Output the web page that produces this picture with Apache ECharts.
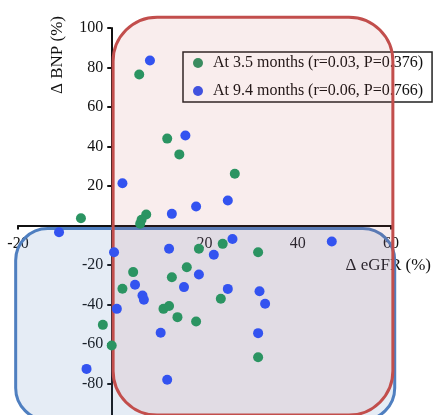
<!DOCTYPE html>
<html><head><meta charset="utf-8">
<script src="https://cdn.jsdelivr.net/npm/echarts@6/dist/echarts.min.js"></script>
<style>html,body{margin:0;padding:0;background:#fff}#c{width:433px;height:415px}</style>
</head><body><div id="c"></div>
<script>
const seriesNames = ['At 3.5 months (r=0.03, P=0.376)', 'At 9.4 months (r=0.06, P=0.766)'];
const months35 = [[6,76.5],[12,44],[14.6,36],[26.5,26.2],[-6.5,3.7],[7.5,5.6],[6.5,2.9],[6.2,0.9],
  [18.8,-11.8],[23.9,-9.3],[31.5,-13.5],[4.7,-23.6],[2.4,-32],[16.2,-21.1],[13,-26.2],[23.5,-37.1],
  [11.2,-42.2],[12.4,-40.8],[14.2,-46.4],[18.2,-48.6],[-1.8,-50.3],[0.1,-60.8],[31.5,-66.7]];
const months94 = [[8.3,83.5],[15.9,45.6],[2.4,21.4],[13,5.9],[18.2,9.6],[25,12.7],[26,-6.8],[-11.2,-3.4],
  [0.6,-13.5],[12.4,-11.8],[22,-14.8],[18.8,-24.8],[5.1,-30],[6.7,-35.4],[7,-37.6],[15.6,-31.2],
  [25,-32.1],[31.8,-33.3],[33,-39.6],[1.2,-42.2],[10.6,-54.3],[-5.3,-72.6],[12,-78.1],[47.3,-8.1],[31.5,-54.5]];
const xRange = [-20, 60], xStep = 20;
const yRange = [-100, 100], yStep = 20;
const xName = 'Δ eGFR (%)', yName = 'Δ BNP (%)';
// shaded regions (data coords): [x0, x1, yTop, yBottom]
const redRegion = [0.4, 60.4, 105.5, -96];
const blueRegion = [-20.5, 60.8, -1.5, -98.5];

const font = 'Liberation Serif, Times New Roman, serif';
const chart = echarts.init(document.getElementById('c'));
const axisCommon = {
  type: 'value', splitLine: {show: false},
  axisLine: {onZero: false, lineStyle: {color: '#111', width: 2}},
  axisTick: {length: 4, lineStyle: {color: '#111', width: 2}},
  axisLabel: {color: '#111', fontFamily: font, fontSize: 16, formatter: v => v === 0 ? '' : String(v)}
};
const gridBox = {left: 18, right: 42, top: 28, bottom: -8};
chart.setOption({
  animation: false,
  grid: Object.assign({containLabel: false, outerBoundsMode: 'none'}, gridBox),
  xAxis: Object.assign({}, axisCommon, {min: xRange[0], max: xRange[1], interval: xStep,
    axisLabel: Object.assign({}, axisCommon.axisLabel, {margin: 10})}),
  yAxis: Object.assign({}, axisCommon, {min: yRange[0], max: yRange[1], interval: yStep,
    axisLabel: Object.assign({}, axisCommon.axisLabel, {margin: 8})}),
  legend: {
    z: 1, orient: 'vertical', left: 183, top: 52, padding: [3, 9, 3, 10], itemGap: 12,
    itemWidth: 10, itemHeight: 10, icon: 'circle',
    backgroundColor: '#fff', borderColor: '#222', borderWidth: 1.5,
    textStyle: {fontFamily: font, fontSize: 16, color: '#111', lineHeight: 16, padding: [0,0,0,5]},
    data: seriesNames
  },
  series: [
    {name: seriesNames[0], type: 'scatter', z: 5, symbolSize: 10, itemStyle: {color: '#2b9462', opacity: 1}, data: months35},
    {name: seriesNames[1], type: 'scatter', z: 5, symbolSize: 10, itemStyle: {color: '#3353f0', opacity: 1}, data: months94}
  ]
});
// move both axes so that they cross at the origin (labels follow)
const origin = chart.convertToPixel({gridIndex: 0}, [0, 0]);
const H = chart.getHeight();
chart.setOption({
  yAxis: {offset: -(origin[0] - gridBox.left)},
  xAxis: {offset: -((H - gridBox.bottom) - origin[1])}
});
function rectFor(reg) {
  const p0 = chart.convertToPixel({gridIndex: 0}, [reg[0], reg[2]]);
  const p1 = chart.convertToPixel({gridIndex: 0}, [reg[1], reg[3]]);
  return {x: p0[0], y: p0[1], width: p1[0] - p0[0], height: p1[1] - p0[1]};
}
const b = rectFor(blueRegion), r = rectFor(redRegion);
chart.setOption({
  graphic: [
    {type: 'text', z: 1, x: 58, y: 55, rotation: Math.PI / 2,
      style: {text: yName, fontFamily: font, fontSize: 17, fill: '#111', align: 'center', verticalAlign: 'middle'}},
    {type: 'text', z: 1, x: 431, y: 266,
      style: {text: xName, fontFamily: font, fontSize: 17, fill: '#111', align: 'right', verticalAlign: 'middle'}},
    {type: 'rect', z: 2, shape: Object.assign({r: 32}, b),
      style: {fill: 'rgba(79,129,189,0.15)', stroke: '#4f7fc0', lineWidth: 3}},
    {type: 'rect', z: 3, shape: Object.assign({r: 44}, r),
      style: {fill: 'rgba(192,80,77,0.1)', stroke: '#c24e4c', lineWidth: 3}}
  ]
});
</script>
</body></html>
